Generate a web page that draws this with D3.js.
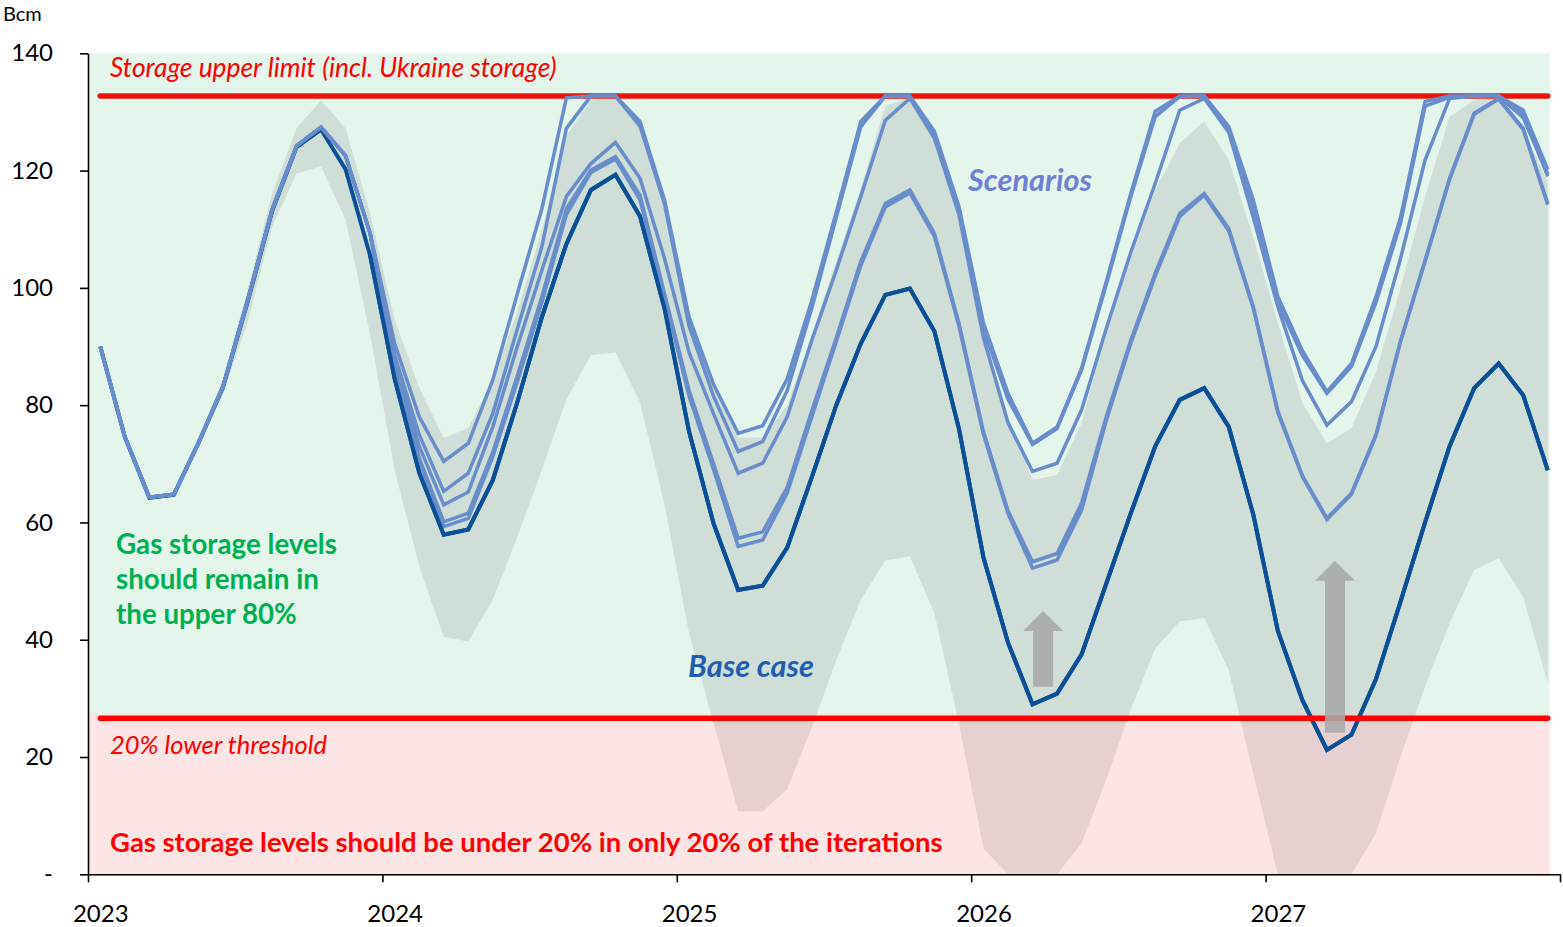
<!DOCTYPE html>
<html><head><meta charset="utf-8">
<script src="https://cdn.jsdelivr.net/npm/d3@7"></script>
<style>
body{margin:0;background:#fff}
svg{display:block}
text{font-family:Lato,"Liberation Sans",sans-serif}
</style>
</head><body>
<svg id="chart" width="1563" height="927"></svg>
<script>
// ---------- DATA ----------
const years = ["2023","2024","2025","2026","2027"];
const monthsPerYear = 12;
const yTicks = [0,20,40,60,80,100,120,140];

const upperLimit = 132.7;     // storage upper limit incl. Ukraine
const lowerThreshold = 26.6;  // 20% lower threshold
const zoneSplit = 27.5;       // green / pink boundary
const yMax = 140;

const baseCase = [90,74.6,64.2,64.7,73.5,83,97.5,113,124,127,
  120.2,105.5,84.5,68.5,57.9,58.8,67.2,80.5,95,107.5,
  116.7,119.3,112.2,96.5,75.5,59.8,48.5,49.2,55.7,67.7,
  80,90.5,98.8,99.9,92.6,76,54,39.5,29,30.8,
  37.5,49.5,61.5,73,80.9,82.9,76.3,61.3,41.5,29.7,
  21.2,23.8,33.3,46.5,60,73,82.9,87.1,81.7,68.9];

const scenario1 = [90,74.6,64.3,64.8,73.6,83.2,97.8,113.3,124.2,127.4,
  122.5,109.3,90.5,78,70.4,73.5,84.3,99,113.5,132.4,
  132.7,132.7,128.4,115,95,83.5,75.2,76.5,84.5,97.8,
  112.9,128.4,132.7,132.7,126.7,113.9,94,82,73.5,76.3,
  86.3,101,116,130.1,132.7,132.7,127.5,115,98.5,89.3,
  82.3,87.1,98.5,112,131.8,132.7,132.7,132.7,130.3,120.2];
const scenario2 = [90,74.6,64.3,64.8,73.6,83.2,97.8,113.3,124.2,127.4,
  122.5,109.3,88.5,75,65.3,68.4,78.6,93,107,127.2,
  132.7,132.7,127.6,114.3,93.5,81.5,72.1,73.8,82.5,96.5,
  112,127.5,132.7,132.7,126,113.2,93,81,73.3,76,
  86,100.5,115.5,129.2,132.6,132.7,126.9,114,97.5,88.5,
  82,86.6,97.5,111,131,132.5,132.7,132.7,129.6,119];
const scenario3 = [90,74.6,64.3,64.8,73.6,83.2,97.8,113.3,124.2,127.4,
  122.5,109.3,87.5,73,63,65.2,76.3,90,103,115.6,
  121.2,124.8,118.7,105,89,78.5,68.4,70.1,78,91,
  103,115.6,128.6,132.3,125.5,112.5,91.5,77,68.7,70.1,
  79.2,93,106,117.8,130.3,132.3,126.5,112,96.8,84.2,
  76.6,80.6,90,105,121.8,132.3,132.7,132.7,129,119.4];
const scenario4 = [90,74.6,64.3,64.8,73.6,83.2,97.8,113.3,124.2,127.4,
  122.5,109.3,86.5,71,60.1,61.6,72,85,98.5,113.5,
  120.1,122.4,115.8,99,82.5,70,57.3,58.4,66,79,
  91.5,104.5,114.4,116.7,109.3,94,75.5,62,53.3,54.7,
  63.3,78,91,102.5,112.7,116.1,110.1,96.8,79,68,
  60.7,65,75,91,104.7,118.7,129.8,132.3,127.2,114.4];
const scenario5 = [90,74.6,64.3,64.8,73.6,83.2,97.8,113.3,124.2,127.4,
  122.5,109.3,86,70.5,59.3,60.7,71.2,84,97.5,112.5,
  119.7,122,115,98.5,81.5,69,55.9,57,65,78,
  90.8,103.8,113.8,116.2,108.8,93.5,75,61.5,52.2,53.6,
  62.1,77.3,90.5,102,112.2,115.8,109.7,96.5,78.7,67.8,
  60.5,64.8,74.8,90.8,104.5,118.5,129.6,132.2,127,114.2];
const scenarios = [scenario1, scenario2, scenario3, scenario4, scenario5];

// distribution band of the iterations (lower / upper edge)
const bandLow = [90,74.4,64,64.4,73,82,94,110.4,119.5,120.7,
  111.6,92,69,52.5,40.5,39.7,46.8,57.5,69,81,
  88.5,89,80.5,63,41,25.8,10.7,10.7,14.5,25,
  36.5,46.8,53.5,54.2,44.5,25.7,4.4,0,0,0,
  5.3,16.1,28,38.5,43.1,43.7,34.8,17,0,0,
  0,0,7,20,32,42.8,51.9,53.9,47.3,32.6];
const bandHigh = [90.2,74.9,64.6,65,74.2,84.5,99.5,116,127.2,132,
  127.2,112.7,94.5,83,74.4,76.1,84.3,96,110,126,
  132,132.5,127.9,114.5,94,83,74.5,74.5,80,92,
  104.5,117,131,132.5,126.5,113,92.5,78,67.3,68.1,
  77,92.8,105,116.7,124.7,128.4,121.8,108.7,94,80.4,
  73.5,76.1,85.7,100,115.6,129.2,132,132.7,127,118];

// annotation arrows: month position, from value, to value
const arrows = [
  {pos: 38.93, from: 32.0, to: 44.9},
  {pos: 50.83, from: 24.15, to: 53.45}
];

// ---------- CHART ----------
const svg = d3.select("#chart");
const nMonths = years.length * monthsPerYear;
const x = d3.scaleLinear().domain([0, nMonths]).range([88, 1560]);
const y = d3.scaleLinear().domain([0, yMax]).range([874.3, 53.3]);
const mx = i => x(i + 0.5);

// background zones
svg.append("rect").attr("x", x(0)).attr("y", y(yMax))
  .attr("width", mx(nMonths - 1) + 2 - x(0)).attr("height", y(zoneSplit) - y(yMax))
  .attr("fill", "#e4f5ec");
svg.append("rect").attr("x", x(0)).attr("y", y(zoneSplit))
  .attr("width", mx(nMonths - 1) + 2 - x(0)).attr("height", y(0) - y(zoneSplit) + 2)
  .attr("fill", "#fde5e5");

// band
const area = d3.area().x((d, i) => mx(i)).y0(d => y(d[0])).y1(d => y(d[1]));
svg.append("path").datum(bandLow.map((v, i) => [v, bandHigh[i]]))
  .attr("d", area).attr("fill", "#000").attr("fill-opacity", 0.09);

// upper limit line
svg.append("line").attr("x1", mx(0)).attr("x2", mx(nMonths - 1))
  .attr("y1", y(upperLimit)).attr("y2", y(upperLimit))
  .attr("stroke", "#ec130b").attr("stroke-width", 5.5).attr("stroke-linecap", "round");

// lines
const line = d3.line().x((d, i) => mx(i)).y(d => y(d));
svg.append("path").datum(baseCase).attr("d", line).attr("fill", "none")
  .attr("stroke", "#0b5097").attr("stroke-width", 4).attr("stroke-linejoin", "miter");
scenarios.slice().reverse().forEach(s => {
  svg.append("path").datum(s).attr("d", line).attr("fill", "none")
    .attr("stroke", "#688dcb").attr("stroke-width", 3.5).attr("stroke-linejoin", "miter");
});
// base case again where it is separate (drawn over)
svg.append("path").datum(baseCase.map((v, i) => i >= 11 ? v : null))
  .attr("d", line.defined(d => d !== null)).attr("fill", "none")
  .attr("stroke", "#0b5097").attr("stroke-width", 4);

// lower threshold line
svg.append("line").attr("x1", mx(0)).attr("x2", mx(nMonths - 1))
  .attr("y1", y(lowerThreshold)).attr("y2", y(lowerThreshold))
  .attr("stroke", "#ff0000").attr("stroke-width", 5.5).attr("stroke-linecap", "round");

// arrows
arrows.forEach(a => {
  const cx = x(a.pos), yb = y(a.from), yt = y(a.to);
  const sw = 10, hw = 20, hh = 20;
  const p = `M${cx - sw},${yb} L${cx - sw},${yt + hh} L${cx - hw},${yt + hh} L${cx},${yt} L${cx + hw},${yt + hh} L${cx + sw},${yt + hh} L${cx + sw},${yb} Z`;
  svg.append("path").attr("d", p).attr("fill", "#a9a9a9").attr("fill-opacity", 0.88);
});

// axes
const yAxis = d3.axisLeft(y).tickValues(yTicks).tickSize(8).tickSizeOuter(0).tickPadding(27)
  .tickFormat(d => d === 0 ? "-" : d);
const gy = svg.append("g").attr("transform", `translate(${x(0)},0)`).call(yAxis);
gy.select(".domain").attr("stroke", "#000").attr("stroke-width", 1.6);
gy.selectAll(".tick line").attr("stroke", "#000").attr("stroke-width", 1.6);
gy.selectAll(".tick text").attr("font-family", "Lato").attr("font-size", 24).attr("fill", "#000");

const xAxis = d3.axisBottom(x).tickValues(d3.range(0, nMonths + 1, monthsPerYear))
  .tickSize(8).tickSizeOuter(0).tickFormat(d => d < nMonths ? years[d / monthsPerYear] : "");
const gx = svg.append("g").attr("transform", `translate(0,${y(0)})`).call(xAxis);
gx.select(".domain").attr("stroke", "#000").attr("stroke-width", 1.6);
gx.selectAll(".tick line").attr("stroke", "#000").attr("stroke-width", 1.6);
gx.selectAll(".tick text").attr("font-family", "Lato").attr("font-size", 24).attr("fill", "#000")
  .attr("x", x(0.5) - x(0)).attr("y", 47.5).attr("dy", 0);

// text helpers
function label(txt, left, baseline, width, opts) {
  const t = svg.append("text").attr("x", left).attr("y", baseline).text(txt)
    .attr("font-size", 20).attr("fill", opts.color)
    .attr("font-weight", opts.bold ? 700 : 400)
    .attr("font-style", opts.italic ? "italic" : "normal");
  const w = t.node().getComputedTextLength();
  t.attr("font-size", 20 * width / w);
  return t;
}

svg.append("text").attr("x", 3).attr("y", 21).text("Bcm")
  .attr("font-size", 20).attr("fill", "#000");
label("Storage upper limit (incl. Ukraine storage)", 110, 77, 447, {color: "#ff0000", italic: true});
label("20% lower threshold", 110, 754, 217, {color: "#ff0000", italic: true});
label("Gas storage levels should be under 20% in only 20% of the iterations", 110, 852, 833, {color: "#ff0000", bold: true});
label("Scenarios", 968, 191, 124, {color: "#7080d6", bold: true, italic: true});
label("Base case", 688, 677, 126, {color: "#1f5eae", bold: true, italic: true});

const g1 = label("Gas storage levels", 116, 554, 221, {color: "#00b050", bold: true});
const fs = g1.attr("font-size");
["should remain in", "the upper 80%"].forEach((t, i) => {
  svg.append("text").attr("x", 116).attr("y", 589 + i * 35).text(t)
    .attr("font-size", fs).attr("font-weight", 700).attr("fill", "#00b050");
});
</script>
</body></html>
